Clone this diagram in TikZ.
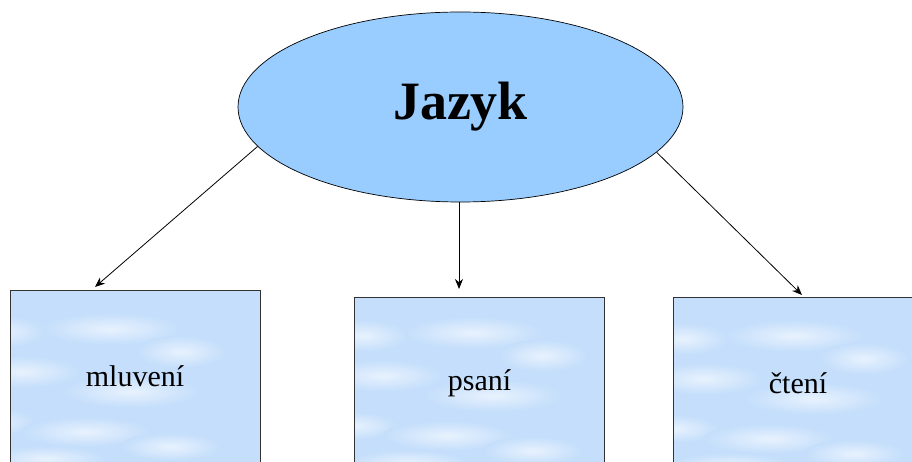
\documentclass[tikz,border=0pt]{standalone}
\usepackage{fontspec}
\setmainfont{Liberation Serif}
\usetikzlibrary{shapes.geometric, arrows.meta}

\definecolor{ovalblue}{RGB}{153,204,255}
\definecolor{cloudblue}{RGB}{196,222,251}

\begin{document}
\begin{tikzpicture}[x=1pt, y=-1pt]
  \tikzstyle{oval} = [ellipse, draw, fill=ovalblue, line width=0.7pt, inner sep=0pt,
                      minimum width=445pt, minimum height=190pt]
  \tikzstyle{cloudy} = [path picture={
      \foreach \dx/\dy/\rx/\ry in {0/-300/5/5, 25/-58/70/16, 95/-35/45/16, -85/-55/45/16,
                                   -65/-15/60/16, 45/5/70/16, -95/35/45/14,
                                   0/45/65/15, 85/60/50/14, -40/72/60/13}
        \shade[inner color=white!60!cloudblue, outer color=cloudblue,
               shift={(path picture bounding box.center)}]
          (\dx,\dy) ellipse [x radius=\rx, y radius=\ry];
    }]
  \tikzstyle{card} = [rectangle, draw=black!80, fill=cloudblue, cloudy, line width=0.9pt,
                      minimum width=250pt, minimum height=172pt, anchor=north,
                      font=\fontsize{30}{34}\selectfont]
  \tikzstyle{link} = [-{Stealth[length=10pt, width=8pt]}, line width=0.8pt]

  \useasboundingbox (0,0) rectangle (912,462);
  \clip (0,0) rectangle (912,462);

  % Draw the main topic
  \node[oval, font=\bfseries\fontsize{54}{60}\selectfont] (jazyk) at (460.5,107) {Jazyk};

  % Draw the three boxes
  \node[card] (mluveni) at (135,290) {mluvení};
  \node[card] (psani) at (479.5,297) {psaní};
  \node[card] (cteni) at (798,297) {čtení};

  % Arrow ends
  \coordinate (tipL) at (95,287);
  \coordinate (tipM) at (459,289);
  \coordinate (tipR) at (802,295);

  % Connections
  \draw[link] (jazyk.191) -- (tipL);
  \draw[link] (jazyk.south -| tipM) -- (tipM);
  \draw[link] (jazyk.347) -- (tipR);

\end{tikzpicture}
\end{document}
